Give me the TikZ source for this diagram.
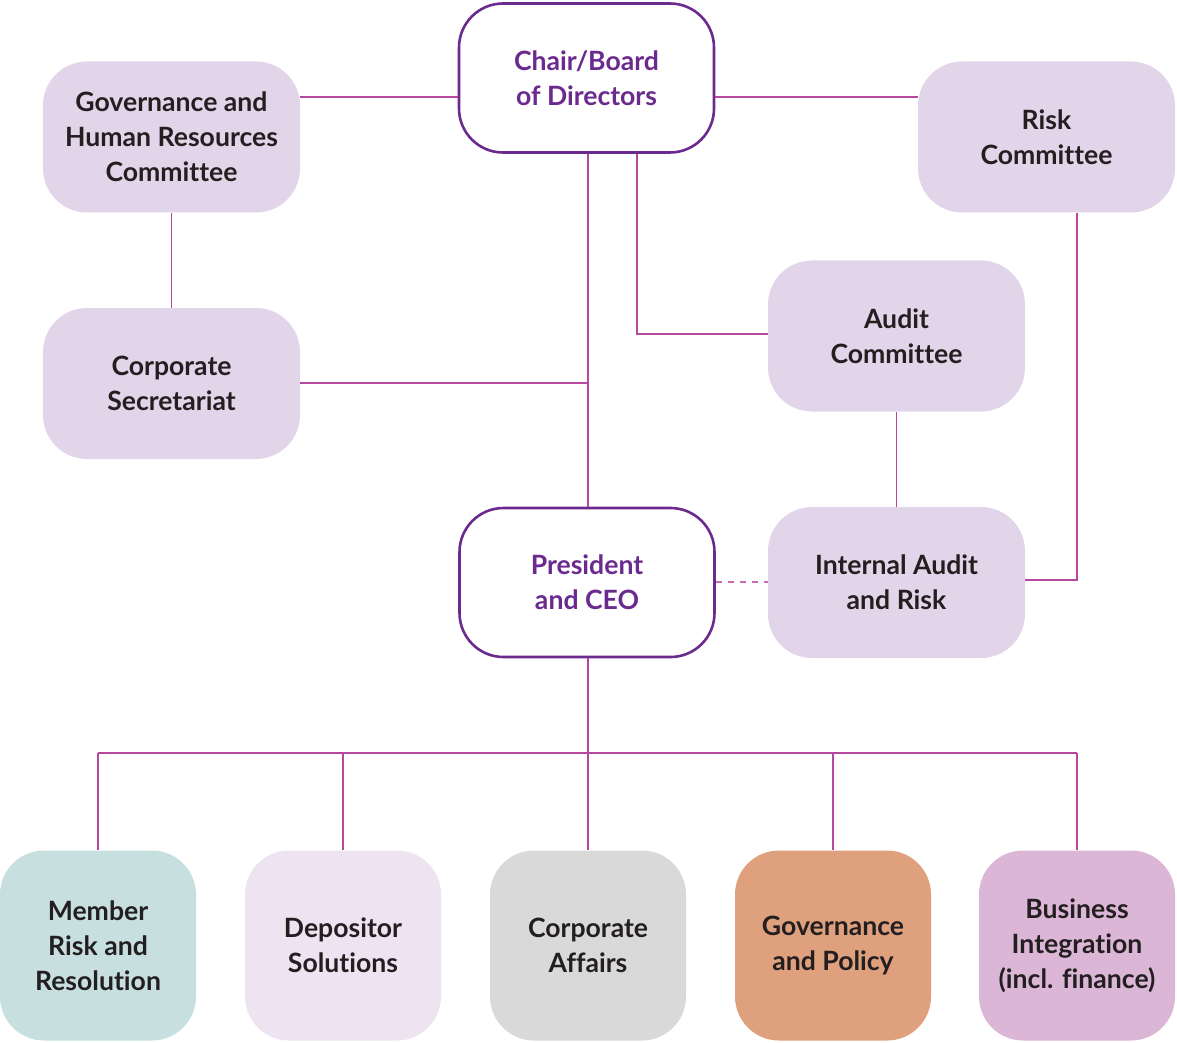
\documentclass[tikz,border=0pt]{standalone}
\usepackage{fontspec}
\setmainfont{Lato}[Ligatures={NoCommon}]
\usetikzlibrary{positioning}
\definecolor{boardpurple}{HTML}{6B2A8E}
\definecolor{linkmag}{HTML}{B8489E}
\definecolor{dashmag}{HTML}{C86BB4}
\definecolor{committee}{HTML}{E2D5E9}
\definecolor{textdark}{HTML}{231F20}
\definecolor{memberfill}{HTML}{C8DFDF}
\definecolor{depositfill}{HTML}{EEE3F0}
\definecolor{affairsfill}{HTML}{D9D9D9}
\definecolor{policyfill}{HTML}{DFA07D}
\definecolor{businessfill}{HTML}{DBB6D6}
\tikzset{
  x=0.5pt, y=-0.5pt,
  box/.style={rounded corners=22pt, inner sep=0pt, align=center,
    font=\fontsize{13.3}{17.5}\selectfont\bfseries, text=textdark},
  execbox/.style={box, draw=boardpurple, line width=1.3pt, fill=white,
    text=boardpurple, minimum width=127.5pt, minimum height=74.5pt},
  cmtbox/.style={box, fill=committee, minimum width=128.5pt, minimum height=75.5pt},
  deptbox/.style={box, minimum width=98pt, minimum height=95pt},
  link/.style={linkmag, line width=0.75pt},
  dashlink/.style={dashmag, line width=0.75pt, dash pattern=on 3pt off 3pt},
}
\begin{document}
\begin{tikzpicture}
\useasboundingbox (0,0) rectangle (1177,1043);

% executive nodes
\node[execbox] (chair) at (586.5,78) {Chair/Board\\of Directors};
\node[execbox] (ceo) at (587,582.5) {President\\and CEO};

% board committees and support
\node[cmtbox] (govhr) at (171.5,137) {Governance and\\Human Resources\\Committee};
\node[cmtbox] (risk) at (1046.5,137) {Risk\\Committee};
\node[cmtbox] (corpsec) at (171.5,383.5) {Corporate\\Secretariat};
\node[cmtbox] (audit) at (896.5,336) {Audit\\Committee};
\node[cmtbox] (iar) at (896.5,582.5) {Internal Audit\\and Risk};

% departments
\node[deptbox, fill=memberfill] (member) at (98,945.5) {Member\\Risk and\\Resolution};
\node[deptbox, fill=depositfill] (depositor) at (343,945.5) {Depositor\\Solutions};
\node[deptbox, fill=affairsfill] (affairs) at (588,945.5) {Corporate\\Affairs};
\node[deptbox, fill=policyfill] (policy) at (833,945.5) {Governance\\and Policy};
\node[deptbox, fill=businessfill] (business) at (1077,945.5) {Business\\Integration\\(incl. finance)};

% junction points
\coordinate (bus) at (588,753);
\coordinate (secjoin) at (588,383);

% board-level links
\draw[link] (chair.west |- 0,97) -- (govhr.east |- 0,97);
\draw[link] (chair.east |- 0,97) -- (risk.west |- 0,97);
\draw[link] (govhr.south) -- (corpsec.north);
\draw[link] (chair.south -| 588,0) -- (ceo.north -| 588,0);
\draw[link] (corpsec.east |- secjoin) -- (secjoin);
\draw[link] (chair.south -| 637,0) |- (audit.west |- 0,334);
\draw[link] (audit.south) -- (iar.north);
\draw[link] (risk.south -| 1077,0) |- (iar.east |- 0,580);
\draw[dashlink] (ceo.east |- 0,582) -- (iar.west |- 0,582);

% reporting lines to departments
\draw[link] (ceo.south -| bus) -- (bus);
\draw[link] (member.north |- bus) -- (business.north |- bus);
\foreach \d in {member,depositor,affairs,policy,business}
  \draw[link] (\d.north |- bus) -- (\d.north);
\end{tikzpicture}
\end{document}
